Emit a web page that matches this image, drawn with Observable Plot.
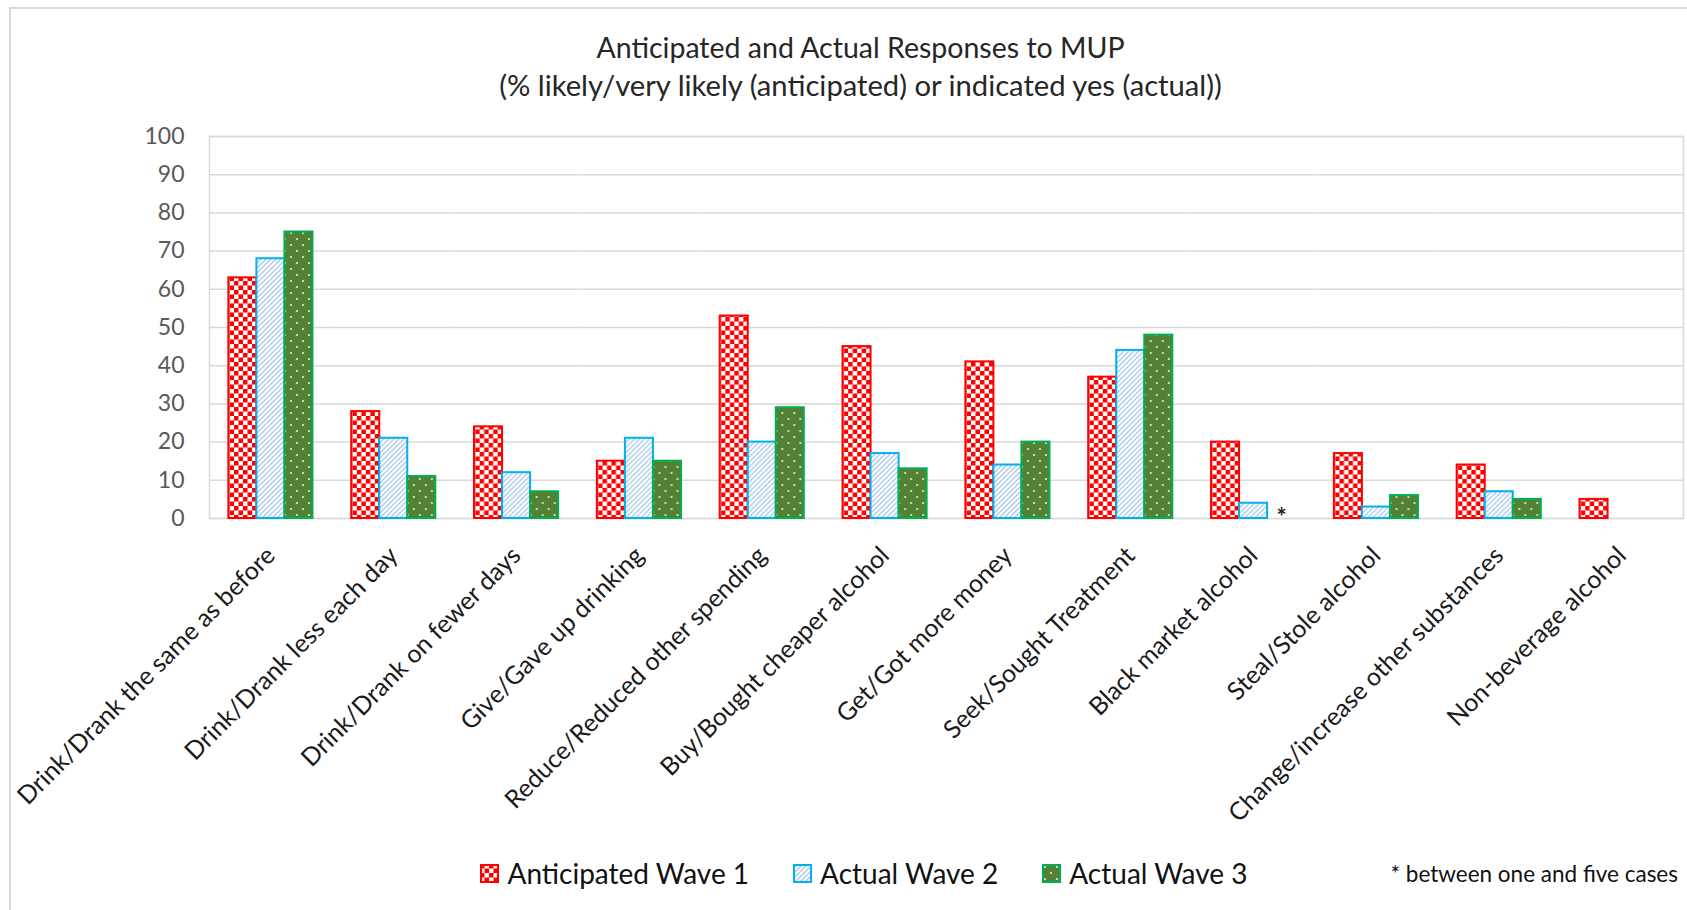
<!DOCTYPE html>
<html>
<head>
<meta charset="utf-8">
<script src="https://cdn.jsdelivr.net/npm/d3@7"></script>
<script src="https://cdn.jsdelivr.net/npm/@observablehq/plot@0.6"></script>
<style>
  html, body { margin: 0; padding: 0; background: #fff; overflow: hidden; }
  body { width: 1687px; height: 910px; position: relative; font-family: Lato, "Noto Sans", sans-serif; }
  #border { position: absolute; left: 9px; top: 7px; width: 1700px; height: 1000px;
            border-left: 2px solid #d9d9d9; border-top: 2px solid #d9d9d9; pointer-events: none; }
  #title { height: 110px; box-sizing: border-box; padding-top: 28px; padding-left: 34px;
           text-align: center; font-size: 28.5px; line-height: 38px; color: #262626; }
  #title .sub { font-size: 29.2px; }
  #chart svg { display: block; }
  #legend { position: relative; height: 80px; box-sizing: border-box; padding-top: 26px; padding-left: 41px;
            display: flex; justify-content: center; align-items: flex-start; font-size: 28px; line-height: 34px; color: #111; }
  .item { display: flex; align-items: center; margin: 0 22px; }
  .item svg { margin-right: 8px; }
  #note { position: absolute; right: 9px; top: 31px; font-size: 22.5px; line-height: 26px; color: #111; }
</style>
</head>
<body>
<div id="border"></div>
<div id="title">Anticipated and Actual Responses to MUP<br><span class="sub">(% likely/very likely (anticipated) or indicated yes (actual))</span></div>
<div id="chart"></div>
<div id="legend"><div id="note">* between one and five cases</div></div>
<script>
const categories = [
  "Drink/Drank the same as before",
  "Drink/Drank less each day",
  "Drink/Drank on fewer days",
  "Give/Gave up drinking",
  "Reduce/Reduced other spending",
  "Buy/Bought cheaper alcohol",
  "Get/Got more money",
  "Seek/Sought Treatment",
  "Black market alcohol",
  "Steal/Stole alcohol",
  "Change/increase other substances",
  "Non-beverage alcohol"
];
const seriesNames = ["Anticipated Wave 1", "Actual Wave 2", "Actual Wave 3"];
const anticipatedWave1 = [63, 28, 24, 15, 53, 45, 41, 37, 20, 17, 14, 5];
const actualWave2      = [68, 21, 12, 21, 20, 17, 14, 44, 4, 3, 7, null];
const actualWave3      = [75, 11, 7, 15, 29, 13, 20, 48, null, 6, 5, null];
const yTicks = [0, 10, 20, 30, 40, 50, 60, 70, 80, 90, 100];
const footnotes = [{category: "Black market alcohol", series: "Actual Wave 3", value: 0, label: "*"}];

const seriesValues = [anticipatedWave1, actualWave2, actualWave3];
const data = [];
seriesNames.forEach((s, i) => categories.forEach((c, j) => {
  if (seriesValues[i][j] != null) data.push({category: c, series: s, value: seriesValues[i][j]});
}));

const fills = ["url(#pat-checker)", "url(#pat-stripes)", "url(#pat-dots)"];
const strokes = ["#ff0000", "#00b0f0", "#00b050"];

const chart = Plot.plot({
  width: 1687,
  height: 720,
  marginTop: 26,
  marginBottom: 312,
  marginLeft: 209,
  marginRight: 4,
  style: {fontFamily: "Lato, 'Noto Sans', sans-serif", background: "#fff"},
  fx: {domain: categories, padding: 0, round: false, label: null},
  x: {domain: seriesNames, paddingInner: 0, paddingOuter: 0.69, round: false, axis: null},
  y: {domain: [0, 100], label: null},
  marks: [
    Plot.gridY(yTicks, {stroke: "#d9d9d9", strokeOpacity: 1, strokeWidth: 1.5}),
    Plot.frame({stroke: "#d9d9d9", strokeWidth: 1.5, facet: "super"}),
    ...seriesNames.map((s, i) => Plot.barY(data.filter(d => d.series === s), {
      fx: "category", x: "series", y: "value",
      fill: fills[i], stroke: strokes[i], strokeWidth: 2
    })),
    Plot.text(footnotes, {fx: "category", x: "series", y: "value", text: "label",
      fontSize: 24, fontWeight: "bold", fill: "#222", lineAnchor: "middle", dy: 0}),
    Plot.axisY(yTicks, {tickSize: 0, tickPadding: 25, fontSize: 23, color: "#595959", label: null}),
    Plot.axisFx({anchor: "bottom", tickRotate: -45, tickSize: 0, tickPadding: 33, fontSize: 25, color: "#1a1a1a", label: null})
  ]
});

const defs = d3.select(chart).insert("defs", ":first-child");
const pc = defs.append("pattern").attr("id", "pat-checker").attr("patternUnits", "userSpaceOnUse")
  .attr("width", 9).attr("height", 9);
pc.append("rect").attr("width", 9).attr("height", 9).attr("fill", "#fff");
pc.append("rect").attr("width", 4.5).attr("height", 4.5).attr("fill", "#ff0000");
pc.append("rect").attr("x", 4.5).attr("y", 4.5).attr("width", 4.5).attr("height", 4.5).attr("fill", "#ff0000");

const ps = defs.append("pattern").attr("id", "pat-stripes").attr("patternUnits", "userSpaceOnUse")
  .attr("width", 5).attr("height", 5);
ps.append("rect").attr("width", 5).attr("height", 5).attr("fill", "#fff");
ps.append("path").attr("d", "M0,5L5,0M-1,1L1,-1M4,6L6,4").attr("stroke", "#a9c8e8").attr("stroke-width", 1.3);

const pd = defs.append("pattern").attr("id", "pat-dots").attr("patternUnits", "userSpaceOnUse")
  .attr("width", 12).attr("height", 12);
pd.append("rect").attr("width", 12).attr("height", 12).attr("fill", "#548235");
pd.append("circle").attr("cx", 3).attr("cy", 3).attr("r", 1.1).attr("fill", "#e4ecdc");
pd.append("circle").attr("cx", 9).attr("cy", 9).attr("r", 1.1).attr("fill", "#e4ecdc");

document.getElementById("chart").appendChild(chart);

const legend = document.getElementById("legend");
seriesNames.forEach((s, i) => {
  const item = document.createElement("div");
  item.className = "item";
  item.innerHTML = `<svg width="19" height="19"><rect x="1" y="1" width="17" height="17" fill="${fills[i]}" stroke="${strokes[i]}" stroke-width="2"/></svg><span>${s}</span>`;
  legend.appendChild(item);
});
</script>
</body>
</html>
